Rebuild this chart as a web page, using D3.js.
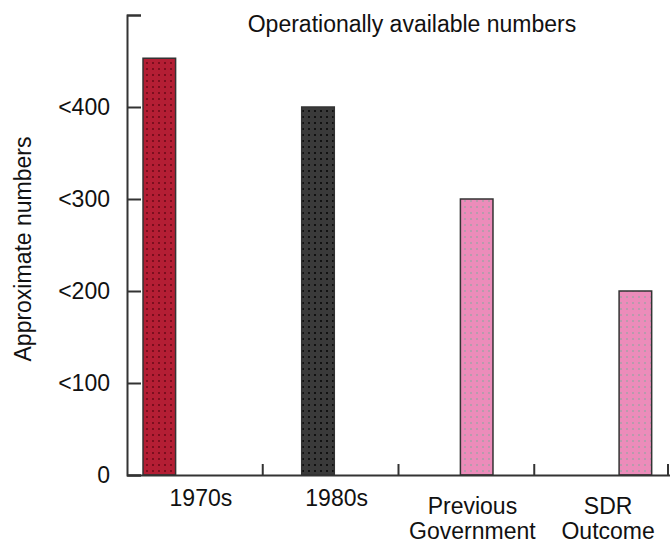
<!DOCTYPE html>
<html>
<head>
<meta charset="utf-8">
<script src="https://cdn.jsdelivr.net/npm/d3@7"></script>
<style>
  body { margin: 0; background: #fff; }
  svg text { font-family: "Liberation Sans", Arial, sans-serif; fill: #111; }
</style>
</head>
<body>
<div id="chart"></div>
<script>
// data
var categories = ["1970s", "1980s", "Previous Government", "SDR Outcome"];
var labelLines = [["1970s"], ["1980s"], ["Previous", "Government"], ["SDR", "Outcome"]];
var values = [453, 400, 300, 200];
var seriesSlot = [0, 1, 2, 3];
var yTicks = [0, 100, 200, 300, 400, 500];
var yTickLabels = ["0", "<100", "<200", "<300", "<400", ""];
var title = "Operationally available numbers";
var yTitle = "Approximate numbers";

var barFills = [
  { id: "pRed", base: "#b41e34", dot: "#7c0e1e" },
  { id: "pBlack", base: "#3a3a3a", dot: "#111111" },
  { id: "pPink", base: "#ec8cba", dot: "#b99aac" },
  { id: "pPink2", base: "#ec8cba", dot: "#b99aac" }
];

var W = 670, H = 548;
var margin = { top: 15, right: 0, bottom: 73, left: 127 };

var svg = d3.select("#chart").append("svg")
  .attr("width", W)
  .attr("height", H);

// patterns
var defs = svg.append("defs");
barFills.forEach(function (f) {
  var p = defs.append("pattern")
    .attr("id", f.id)
    .attr("width", 6).attr("height", 6)
    .attr("patternUnits", "userSpaceOnUse");
  p.append("rect").attr("width", 6).attr("height", 6).attr("fill", f.base);
  p.append("rect").attr("x", 2).attr("y", 2).attr("width", 2).attr("height", 2).attr("fill", f.dot);
});

var x = d3.scaleBand()
  .domain(categories)
  .range([margin.left, W])
  .padding(0);

var bw = x.bandwidth();
var slot = d3.scalePoint()
  .domain(seriesSlot)
  .range([bw * 0.118, bw * 0.625]);
var barW = bw * 0.24;

var y = d3.scaleLinear()
  .domain([0, 500])
  .range([H - margin.bottom - 0, margin.top]);

// bars
svg.append("g").selectAll("rect")
  .data(values)
  .enter()
  .append("rect")
  .attr("x", function (d, i) { return x(categories[i]) + slot(seriesSlot[i]); })
  .attr("y", function (d) { return y(d); })
  .attr("width", barW)
  .attr("height", function (d) { return y(0) - y(d); })
  .attr("fill", function (d, i) { return "url(#" + barFills[i].id + ")"; })
  .attr("stroke", "#333")
  .attr("stroke-width", 1.5);

// y axis
var yAxis = d3.axisRight(y)
  .tickValues(yTicks)
  .tickSize(14)
  .tickFormat("");

var yg = svg.append("g")
  .attr("transform", "translate(" + margin.left + ",0)")
  .call(yAxis);
yg.select(".domain").attr("stroke", "#333").attr("stroke-width", 2);
yg.selectAll(".tick line").attr("stroke", "#333").attr("stroke-width", 2);

svg.append("g").selectAll("text")
  .data(yTicks)
  .enter()
  .append("text")
  .attr("x", margin.left - 17)
  .attr("y", function (d) { return y(d) + 8; })
  .attr("text-anchor", "end")
  .style("font-size", "23px")
  .text(function (d, i) { return yTickLabels[i]; });

// x axis
var xAxis = d3.axisTop(x).tickSize(0).tickFormat("");
var xg = svg.append("g")
  .attr("transform", "translate(0," + y(0) + ")")
  .call(xAxis);
xg.select(".domain").attr("stroke", "#333").attr("stroke-width", 2);

// category separators
svg.append("g").selectAll("line")
  .data(categories.slice(1).concat(["end"]))
  .enter()
  .append("line")
  .attr("x1", function (d) { return d == "end" ? W - 2 : x(d); })
  .attr("x2", function (d) { return d == "end" ? W - 2 : x(d); })
  .attr("y1", y(0))
  .attr("y2", y(0) - 11)
  .attr("stroke", "#333")
  .attr("stroke-width", 2);

// category labels
var lab = svg.append("g").selectAll("text")
  .data(labelLines)
  .enter()
  .append("text")
  .attr("text-anchor", "middle")
  .style("font-size", "23px")
  .attr("transform", function (d, i) {
    var cx = x(categories[i]) + bw / 2 + 6;
    var by = d.length == 1 ? 506 : 514;
    return "translate(" + cx + "," + by + ")";
  });
lab.selectAll("tspan")
  .data(function (d) { return d; })
  .enter()
  .append("tspan")
  .attr("x", 0)
  .attr("dy", function (d, i) { return i == 0 ? 0 : 25; })
  .text(function (d) { return d; });

// titles
svg.append("text")
  .attr("x", 412)
  .attr("y", 32)
  .attr("text-anchor", "middle")
  .style("font-size", "23px")
  .text(title);

svg.append("text")
  .attr("transform", "translate(31,249) rotate(-90)")
  .attr("text-anchor", "middle")
  .style("font-size", "23px")
  .text(yTitle);
</script>
</body>
</html>
